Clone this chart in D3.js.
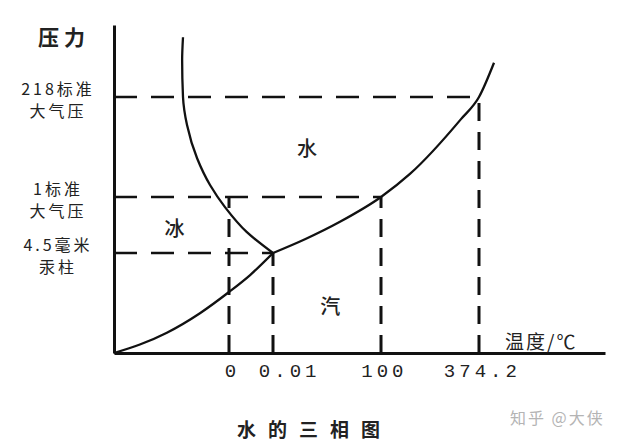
<!DOCTYPE html>
<html>
<head>
<meta charset="utf-8">
<script src="https://cdn.jsdelivr.net/npm/d3@7"></script>
<style>
  body { margin: 0; background: #fff; }
  svg { display: block; }
</style>
</head>
<body>
<div id="chart"></div>
<script>
// temperature ticks (°C) and the pressure (atm) where each drop line starts
const tempTicks = [0, 0.01, 100, 374.2];
const tempLabels = ["0", "0.01", "100", "374.2"];
const tempDropFrom = [1, 0.0059, 1, 218];

// pressure ticks (atm), their labels, and the temperature each guide runs to
const pressTicks = [0.0059, 1, 218];
const pressLabels = [["4.5毫米", "汞柱"], ["1标准", "大气压"], ["218标准", "大气压"]];
const pressGuideTo = [0.01, 100, 374.2];

// phase boundaries as [°C, atm]
const sublimation = [[-40, 0], [-31, 0.0005], [-21.6, 0.0012], [-10.1, 0.00235], [0, 0.0036], [0.0048, 0.0046], [0.01, 0.0059]];
const melting = [[-16, 286], [-16.3, 260], [-16, 218], [-14.6, 157], [-11.1, 85], [-6.6, 27], [-1.4, 0.82], [0.004, 0.38], [0.01, 0.0059]];
const vaporization = [[0.01, 0.0059], [29.6, 0.25], [62, 0.56], [100, 1], [181, 51], [323.8, 170], [374.2, 218], [386.8, 257]];

// phase region names placed at [°C, atm]
const phaseNames = ["水", "冰", "汽"];
const phaseTemps = [31.5, -19, 53];
const phasePress = [109, 0.45, 0.0028];

const width = 624, height = 448;
const cjk = "'Noto Sans CJK SC', sans-serif";

// schematic (piecewise) scales: each tick gets its own spot on the axis
const x = d3.scaleLinear()
    .domain([-40, ...tempTicks, 480])
    .range([114, 229, 273, 381, 479, 605]);

const y = d3.scaleLinear()
    .domain([0, ...pressTicks, 300])
    .range([353, 253, 197, 97, 25]);

const svg = d3.select("#chart").append("svg")
    .attr("width", width)
    .attr("height", height)
    .attr("viewBox", [0, 0, width, height]);

// dashed guide lines
svg.append("g")
    .attr("stroke", "#111")
    .attr("stroke-width", 2.5)
    .attr("stroke-dasharray", "23,14")
    .selectAll("line")
    .data(pressTicks)
    .join("line")
    .attr("x1", x(-40))
    .attr("x2", (d, i) => x(pressGuideTo[i]))
    .attr("y1", d => y(d))
    .attr("y2", d => y(d));

svg.append("g")
    .attr("stroke", "#111")
    .attr("stroke-width", 3)
    .attr("stroke-dasharray", "18,11")
    .selectAll("line")
    .data(tempTicks)
    .join("line")
    .attr("x1", d => x(d))
    .attr("x2", d => x(d))
    .attr("y1", y(0))
    .attr("y2", (d, i) => y(tempDropFrom[i]));

// phase boundary curves
const lineX = d3.line()
    .x(d => x(d[0]))
    .y(d => y(d[1]))
    .curve(d3.curveMonotoneX);

const lineY = d3.line()
    .x(d => x(d[0]))
    .y(d => y(d[1]))
    .curve(d3.curveMonotoneY);

const curves = svg.append("g")
    .attr("fill", "none")
    .attr("stroke", "#111")
    .attr("stroke-width", 2.3);

curves.append("path").attr("d", lineX(sublimation));
curves.append("path").attr("d", lineX(vaporization));
curves.append("path").attr("d", lineY(melting));

// axes
svg.append("g")
    .attr("transform", `translate(0,${y(0)})`)
    .call(d3.axisBottom(x).tickValues(tempTicks).tickSize(0).tickSizeOuter(0).tickPadding(11)
        .tickFormat((d, i) => tempLabels[i]))
    .call(g => g.select(".domain").attr("stroke", "#111").attr("stroke-width", 3))
    .call(g => g.selectAll(".tick text")
        .attr("fill", "#222")
        .attr("font-family", "'Liberation Mono', monospace")
        .attr("font-size", 19)
        .attr("letter-spacing", "4px")
        .attr("dx", d => d === 0.01 ? "0.85em" : "0.15em"));

svg.append("g")
    .attr("transform", `translate(${x(-40)},0)`)
    .call(d3.axisLeft(y).tickValues([]).tickSizeOuter(0))
    .call(g => g.select(".domain").attr("stroke", "#111").attr("stroke-width", 3));

// pressure tick labels (two lines each)
const pl = svg.append("g")
    .attr("font-family", cjk)
    .attr("font-size", 16)
    .attr("fill", "#222")
    .attr("text-anchor", "middle")
    .attr("dominant-baseline", "central")
    .attr("letter-spacing", "3px")
    .selectAll("g")
    .data(pressTicks)
    .join("g")
    .attr("transform", d => `translate(58,${y(d)})`);

pl.append("text")
    .attr("y", -9)
    .text((d, i) => pressLabels[i][0]);
pl.append("text")
    .attr("y", 13)
    .text((d, i) => pressLabels[i][1]);

// phase names
svg.append("g")
    .attr("font-family", cjk)
    .attr("font-size", 20)
    .attr("font-weight", 500)
    .attr("fill", "#222")
    .attr("text-anchor", "middle")
    .attr("dominant-baseline", "central")
    .selectAll("text")
    .data(phaseNames)
    .join("text")
    .attr("x", (d, i) => x(phaseTemps[i]))
    .attr("y", (d, i) => y(phasePress[i]))
    .text(d => d);

// axis titles
svg.append("text")
    .attr("x", 38).attr("y", 36)
    .attr("dominant-baseline", "central")
    .attr("font-family", cjk)
    .attr("font-size", 21)
    .attr("font-weight", "bold")
    .attr("letter-spacing", "5px")
    .attr("fill", "#222")
    .text("压力");

svg.append("text")
    .attr("x", 505).attr("y", 340)
    .attr("dominant-baseline", "central")
    .attr("font-family", cjk)
    .attr("font-size", 19)
    .attr("letter-spacing", "2px")
    .attr("fill", "#222")
    .text("温度/℃");

// chart title and watermark
svg.append("text")
    .attr("x", 237).attr("y", 428)
    .attr("dominant-baseline", "central")
    .attr("font-family", cjk)
    .attr("font-size", 19)
    .attr("font-weight", "bold")
    .attr("letter-spacing", "12px")
    .attr("fill", "#222")
    .text("水的三相图");

svg.append("text")
    .attr("x", 510).attr("y", 417)
    .attr("dominant-baseline", "central")
    .attr("font-family", cjk)
    .attr("font-size", 16)
    .attr("letter-spacing", "2px")
    .attr("fill", "#b4b4b4")
    .text("知乎 @大侠");
</script>
</body>
</html>
